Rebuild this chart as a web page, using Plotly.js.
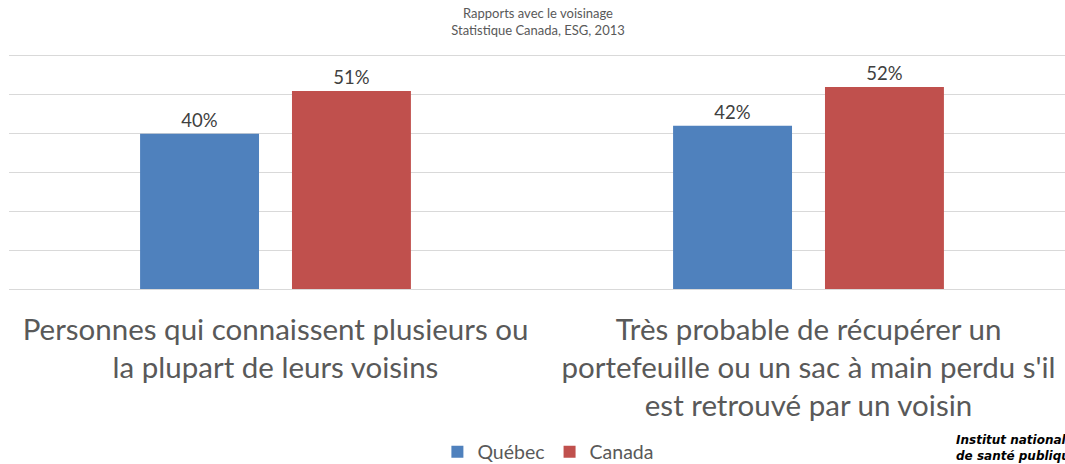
<!DOCTYPE html>
<html>
<head>
<meta charset="utf-8">
<script src="https://cdn.plot.ly/plotly-3.0.1.min.js"></script>
<style>html,body{margin:0;padding:0;overflow:hidden;background:#fff;}</style>
</head>
<body>
<div id="chart" style="width:1076px;height:464px;"></div>
<script>
const categories = [
  "Personnes qui connaissent plusieurs ou<br>la plupart de leurs voisins",
  "Très probable de récupérer un<br>portefeuille ou un sac à main perdu s'il<br>est retrouvé par un voisin"
];
const quebecValues = [40, 42];
const canadaValues = [51, 52];
const seriesNames = ["Québec", "Canada"];

const font = "Lato, 'Open Sans', sans-serif";
const traces = [
  {type: "bar", name: seriesNames[0], x: categories, y: quebecValues,
   marker: {color: "#4F81BD"},
   text: quebecValues.map(v => v + "%"), textposition: "outside",
   textfont: {family: font, size: 18.5, color: "#404040"}, cliponaxis: false, hoverinfo: "none"},
  {type: "bar", name: seriesNames[1], x: categories, y: canadaValues,
   marker: {color: "#C0504D"},
   text: canadaValues.map(v => v + "%"), textposition: "outside",
   textfont: {family: font, size: 18.5, color: "#404040"}, cliponaxis: false, hoverinfo: "none"}
];

const layout = {
  width: 1076, height: 464,
  margin: {l: 9, r: 1, t: 54, b: 175, autoexpand: false},
  paper_bgcolor: "#fff", plot_bgcolor: "#fff",
  font: {family: font, color: "#595959"},
  title: {text: "Rapports avec le voisinage<br>Statistique Canada, ESG, 2013",
          font: {family: font, size: 13, color: "#595959"},
          x: 0.5, xanchor: "center", xref: "container", yref: "container",
          y: 1 - 18 / 464, yanchor: "middle"},
  barmode: "group", bargap: 0.43, bargroupgap: 0.217,
  xaxis: {type: "category", showgrid: false, showline: false, ticks: "",
          ticklabelstandoff: 20,
          tickfont: {family: font, size: 29.5, color: "#595959"}, automargin: false},
  yaxis: {range: [0, 60.5], tickvals: [0, 10, 20, 30, 40, 50, 60], showticklabels: false, showgrid: true,
          gridcolor: "#D9D9D9", gridwidth: 1, zeroline: true, zerolinecolor: "#D9D9D9",
          zerolinewidth: 1, showline: false, fixedrange: true, automargin: false},
  showlegend: true,
  legend: {orientation: "h", x: 0.506, xanchor: "center", xref: "paper",
           yref: "container", y: 12 / 464, yanchor: "middle", itemwidth: 30,
           font: {family: font, size: 19.5, color: "#595959"}, itemclick: false},
  annotations: [
    {text: "<b><i>Institut national<br>de santé publique</i></b>", xref: "paper", yref: "paper",
     x: (955 - 9) / 1066, xanchor: "left", y: (289 - 448) / 235, yanchor: "middle", align: "left",
     borderpad: 0, showarrow: false,
     font: {family: "'DejaVu Sans', sans-serif", size: 12, color: "#000"}}
  ]
};

Plotly.newPlot("chart", traces, layout, {displayModeBar: false, staticPlot: true});
</script>
</body>
</html>
